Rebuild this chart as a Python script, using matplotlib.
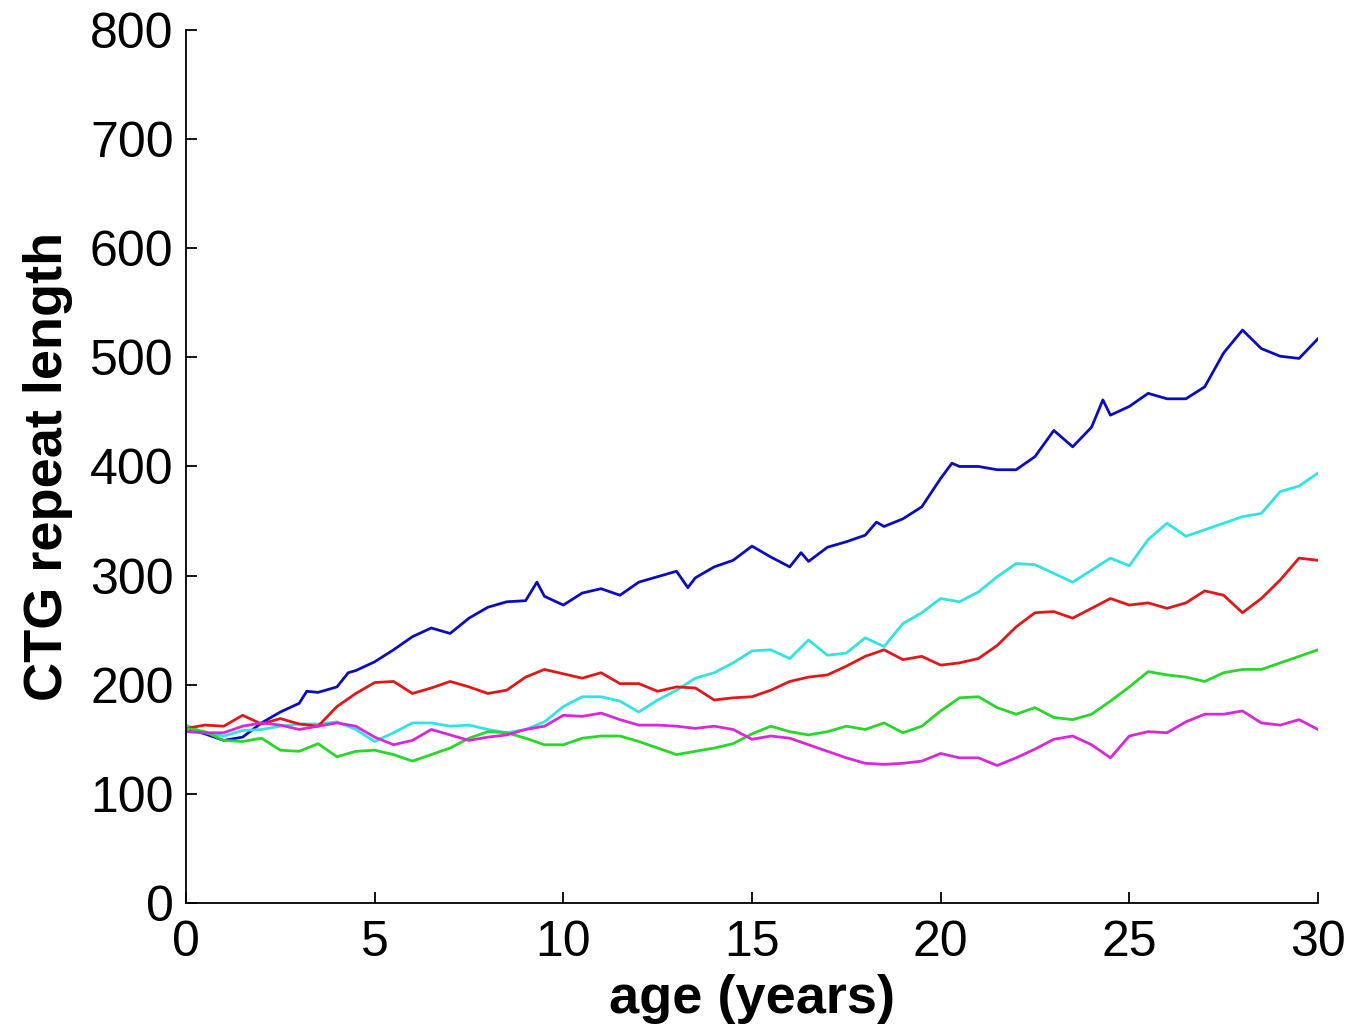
import numpy as np
import matplotlib
matplotlib.use('Agg')
import matplotlib.pyplot as plt

plt.rcParams['font.family'] = ['Liberation Sans', 'DejaVu Sans']

# age grid (years), values every half year (plus a few peaks)
age_blue = [0, 0.5, 1, 1.5, 2, 2.5, 3, 3.2, 3.5, 4, 4.3, 4.5, 5, 5.5, 6, 6.5, 7, 7.5, 8, 8.5, 9, 9.3, 9.5, 10,
            10.5, 11, 11.5, 12, 12.5, 13, 13.3, 13.5, 14, 14.5, 15, 15.5, 16, 16.3, 16.5, 17, 17.5, 18, 18.3, 18.5,
            19, 19.5, 20, 20.3, 20.5, 21, 21.5, 22, 22.5, 23, 23.5, 24, 24.3, 24.5, 25, 25.5, 26, 26.5, 27, 27.5,
            28, 28.5, 29, 29.5, 30]
blue = [160, 155, 149, 152, 165, 175, 183, 194, 193, 198, 211, 213, 221, 232, 244, 252, 247, 261, 271, 276, 277, 294, 281, 273,
        284, 288, 282, 294, 299, 304, 289, 298, 308, 314, 327, 317, 308, 321, 313, 326, 331, 337, 349, 345,
        352, 363, 389, 403, 400, 400, 397, 397, 409, 433, 418, 436, 461, 447, 455, 467, 462, 462, 473, 504,
        525, 508, 501, 499, 517]

age = [0, 0.5, 1, 1.5, 2, 2.5, 3, 3.5, 4, 4.5, 5, 5.5, 6, 6.5, 7, 7.5, 8, 8.5, 9, 9.5, 10,
       10.5, 11, 11.5, 12, 12.5, 13, 13.5, 14, 14.5, 15, 15.5, 16, 16.5, 17, 17.5, 18, 18.5, 19, 19.5, 20,
       20.5, 21, 21.5, 22, 22.5, 23, 23.5, 24, 24.5, 25, 25.5, 26, 26.5, 27, 27.5, 28, 28.5, 29, 29.5, 30]
cyan = [163, 156, 153, 158, 159, 162, 164, 164, 166, 159, 148, 156, 165, 165, 162, 163, 159, 156, 159, 166, 180,
        189, 189, 185, 175, 186, 195, 206, 211, 220, 231, 232, 224, 241, 227, 229, 243, 235, 256, 266, 279,
        276, 285, 299, 311, 310, 302, 294, 305, 316, 309, 333, 348, 336, 342, 348, 354, 357, 377, 382, 394]
red = [160, 163, 162, 172, 164, 169, 164, 162, 180, 192, 202, 203, 192, 197, 203, 198, 192, 195, 207, 214, 210,
       206, 211, 201, 201, 194, 198, 197, 186, 188, 189, 195, 203, 207, 209, 217, 226, 232, 223, 226, 218,
       220, 224, 236, 253, 266, 267, 261, 270, 279, 273, 275, 270, 275, 286, 282, 266, 279, 296, 316, 314]
green = [160, 157, 149, 148, 151, 140, 139, 146, 134, 139, 140, 136, 130, 136, 142, 151, 157, 156, 151, 145, 145,
         151, 153, 153, 148, 142, 136, 139, 142, 146, 155, 162, 157, 154, 157, 162, 159, 165, 156, 162, 176,
         188, 189, 179, 173, 179, 170, 168, 173, 185, 198, 212, 209, 207, 203, 211, 214, 214, 220, 226, 232]
magenta = [157, 156, 156, 162, 165, 163, 159, 162, 165, 162, 152, 145, 149, 159, 154, 149, 152, 154, 159, 162, 172,
           171, 174, 168, 163, 163, 162, 160, 162, 159, 150, 153, 151, 145, 139, 133, 128, 127, 128, 130, 137,
           133, 133, 126, 133, 141, 150, 153, 145, 133, 153, 157, 156, 166, 173, 173, 176, 165, 163, 168, 159]

fig = plt.figure(figsize=(13.48, 10.32), dpi=100)
ax = fig.add_axes([0.138, 0.125, 0.8397, 0.846])

ax.plot(age_blue, blue, color='#0c0cbe', lw=2.0)
ax.plot(age, cyan, color='#30e4e4', lw=2.0)
ax.plot(age, red, color='#e01818', lw=2.0)
ax.plot(age, green, color='#28d828', lw=2.0)
ax.plot(age, magenta, color='#d828d8', lw=2.0)

ax.set_xlim(0, 30)
ax.set_ylim(0, 800)
ax.set_xticks(np.arange(0, 31, 5))
ax.set_yticks(np.arange(0, 801, 100))
ax.spines['top'].set_visible(False)
ax.spines['right'].set_visible(False)
for s in ['left', 'bottom']:
    ax.spines[s].set_linewidth(1.3)
ax.tick_params(direction='in', length=8, width=1.3, labelsize=36)
ax.tick_params(axis='x', pad=12)
ax.tick_params(axis='y', pad=9)
ax.set_xlabel('age (years)', fontsize=39, fontweight='bold', labelpad=6)
ax.set_ylabel('CTG repeat length', fontsize=39, fontweight='bold', labelpad=12)

fig.savefig('out.png', dpi=100)
